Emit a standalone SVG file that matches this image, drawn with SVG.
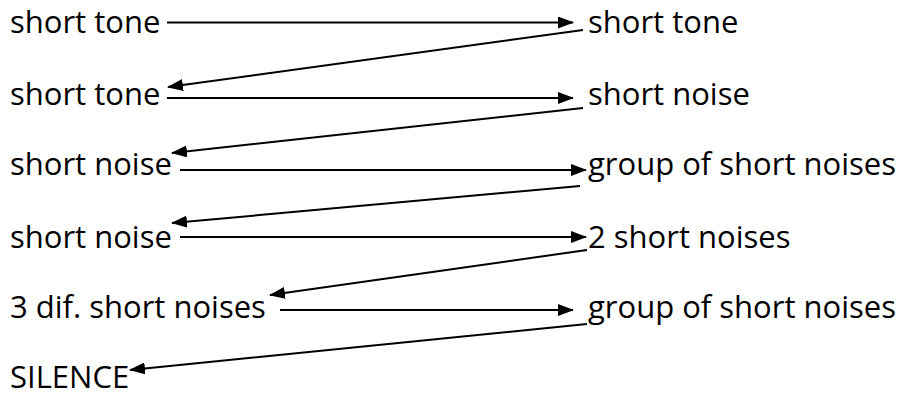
<svg xmlns="http://www.w3.org/2000/svg" width="906" height="396" viewBox="0 0 906 396">
<style>
text{font-family:"Open Sans","Noto Sans",sans-serif;font-size:31px;fill:#000}
.c line{stroke:#000;stroke-width:2;fill:none}
</style>
<defs>
<marker id="ah" markerWidth="16" markerHeight="12" refX="15" refY="6" orient="auto" markerUnits="userSpaceOnUse">
<path d="M0,0 L16,6 L0,12 Z" fill="#000"/>
</marker>
</defs>
<g id="n1"><text x="10" y="33">short tone</text></g>
<g id="n2"><text x="588" y="33">short tone</text></g>
<g id="n3"><text x="10" y="105">short tone</text></g>
<g id="n4"><text x="588" y="105">short noise</text></g>
<g id="n5"><text x="10" y="175">short noise</text></g>
<g id="n6"><text x="588" y="175">group of short noises</text></g>
<g id="n7"><text x="10" y="248">short noise</text></g>
<g id="n8"><text x="588" y="248">2 short noises</text></g>
<g id="n9"><text x="10" y="318">3 dif. short noises</text></g>
<g id="n10"><text x="588" y="318">group of short noises</text></g>
<g id="n11"><text x="10" y="388">SILENCE</text></g>
<g class="c" id="connectors">
<line x1="167" y1="22.5" x2="573" y2="22.5" marker-end="url(#ah)"/>
<line x1="583" y1="30" x2="168" y2="87" marker-end="url(#ah)"/>
<line x1="167" y1="98" x2="573" y2="98" marker-end="url(#ah)"/>
<line x1="583" y1="108" x2="172" y2="153" marker-end="url(#ah)"/>
<line x1="180" y1="170" x2="586" y2="170" marker-end="url(#ah)"/>
<line x1="580" y1="186" x2="172" y2="223" marker-end="url(#ah)"/>
<line x1="180" y1="237" x2="586" y2="237" marker-end="url(#ah)"/>
<line x1="587" y1="250" x2="270" y2="295" marker-end="url(#ah)"/>
<line x1="280" y1="310" x2="573" y2="310" marker-end="url(#ah)"/>
<line x1="587" y1="324" x2="130" y2="370" marker-end="url(#ah)"/>
</g>
</svg>
